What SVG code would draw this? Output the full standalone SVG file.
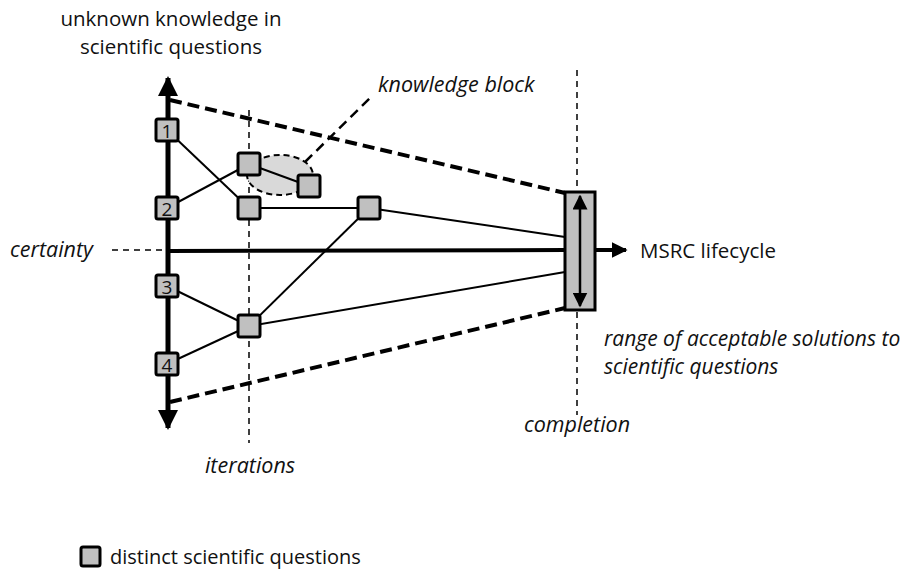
<svg xmlns="http://www.w3.org/2000/svg" width="902" height="570" viewBox="0 0 902 570">
<defs>
<style>
.t{font-family:"Open Sans","Liberation Sans",sans-serif;fill:#111}
.i{font-style:italic}
.node{fill:#c0c0c0;stroke:#000;stroke-width:3}
.ln{stroke:#000;stroke-width:2;fill:none}
.bd{stroke:#000;stroke-width:4;stroke-dasharray:12 6;fill:none}
.td{stroke:#000;stroke-width:1.5;stroke-dasharray:6 5;fill:none}
.num{font-family:"Open Sans","Liberation Sans",sans-serif;font-size:19px;fill:#111;text-anchor:middle}
</style>
<marker id="ah" viewBox="0 0 10 10" refX="9" refY="5" markerWidth="4" markerHeight="4" orient="auto-start-reverse"><path d="M0,0L10,5L0,10z" fill="#000"/></marker>
<marker id="ahs" viewBox="0 0 10 10" refX="9" refY="5" markerWidth="6" markerHeight="6" orient="auto-start-reverse"><path d="M0,0L10,5L0,10z" fill="#000"/></marker>
</defs>
<rect width="902" height="570" fill="#fff"/>

<g id="connectors">
<line class="td" x1="249" y1="110" x2="249" y2="443"/>
<line class="td" x1="577" y1="70" x2="577" y2="415"/>
<line class="td" x1="112" y1="250" x2="168" y2="250"/>
<line class="bd" x1="170" y1="100" x2="565" y2="193"/>
<line class="bd" x1="170" y1="402" x2="565" y2="308"/>
<line class="td" x1="305" y1="162" x2="372" y2="96" style="stroke-width:2.5;stroke-dasharray:10 6"/>
<line x1="168" y1="251" x2="565" y2="250" stroke="#000" stroke-width="4"/>
<line x1="595" y1="250" x2="626" y2="250" stroke="#000" stroke-width="4" marker-end="url(#ah)"/>
<line x1="168" y1="428" x2="168" y2="78" stroke="#000" stroke-width="5" marker-end="url(#ah)" marker-start="url(#ah)"/>
<line class="ln" x1="167" y1="130" x2="249" y2="208"/>
<line class="ln" x1="167" y1="208" x2="249" y2="164"/>
<line class="ln" x1="249" y1="208" x2="369" y2="208"/>
<line class="ln" x1="369" y1="208" x2="565" y2="237"/>
<line class="ln" x1="369" y1="208" x2="249" y2="326"/>
<line class="ln" x1="167" y1="286" x2="249" y2="326"/>
<line class="ln" x1="167" y1="364" x2="249" y2="326"/>
<line class="ln" x1="249" y1="326" x2="565" y2="272"/>
</g>

<g id="knowledge-block">
<ellipse cx="280" cy="175" rx="33" ry="20" fill="#d9d9d9" stroke="#000" stroke-width="2" stroke-dasharray="6 4"/>
<line class="ln" x1="249" y1="164" x2="309" y2="186"/>
<text class="t i" x="378" y="92" font-size="21.5">knowledge block</text>
</g>

<g id="q1"><rect class="node" x="156" y="119" width="22" height="22" rx="2"/><text class="num" x="167" y="137.5">1</text></g>
<g id="q2"><rect class="node" x="156" y="197" width="22" height="22" rx="2"/><text class="num" x="167" y="215.5">2</text></g>
<g id="q3"><rect class="node" x="156" y="275" width="22" height="22" rx="2"/><text class="num" x="167" y="293.5">3</text></g>
<g id="q4"><rect class="node" x="156" y="353" width="22" height="22" rx="2"/><text class="num" x="167" y="371.5">4</text></g>
<g id="nA"><rect class="node" x="238" y="153" width="22" height="22" rx="2"/></g>
<g id="nB"><rect class="node" x="238" y="197" width="22" height="22" rx="2"/></g>
<g id="nC"><rect class="node" x="298" y="175" width="22" height="22" rx="2"/></g>
<g id="nD"><rect class="node" x="358" y="197" width="22" height="22" rx="2"/></g>
<g id="nE"><rect class="node" x="238" y="315" width="22" height="22" rx="2"/></g>

<g id="range">
<rect x="565" y="192" width="30" height="118" fill="#c0c0c0" stroke="#000" stroke-width="3"/>
<line x1="580" y1="196" x2="580" y2="306" stroke="#000" stroke-width="2.5" marker-start="url(#ahs)" marker-end="url(#ahs)"/>
</g>

<g id="labels">
<text class="t" x="171" y="26" font-size="20.5" text-anchor="middle">unknown knowledge in</text>
<text class="t" x="171" y="54" font-size="20.5" text-anchor="middle">scientific questions</text>
<text class="t i" x="10" y="257" font-size="21.5">certainty</text>
<text class="t" x="640" y="258" font-size="20.5">MSRC lifecycle</text>
<text class="t i" x="604" y="346" font-size="21">range of acceptable solutions to</text>
<text class="t i" x="604" y="374" font-size="21">scientific questions</text>
<text class="t i" x="577" y="432" font-size="21.5" text-anchor="middle">completion</text>
<text class="t i" x="250" y="473" font-size="21.5" text-anchor="middle">iterations</text>
</g>

<g id="legend">
<rect class="node" x="81" y="547" width="19" height="19" rx="2"/>
<text class="t" x="110" y="564" font-size="20">distinct scientific questions</text>
</g>
</svg>
